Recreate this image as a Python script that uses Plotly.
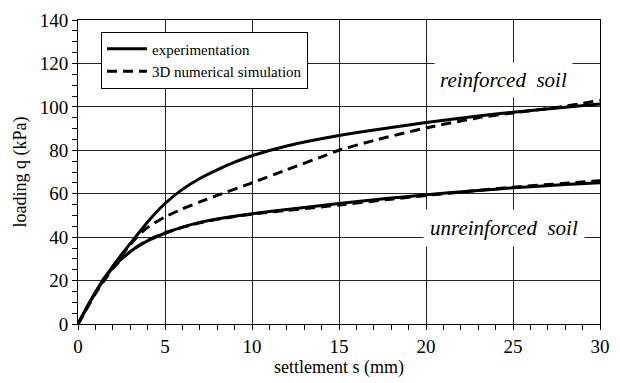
import plotly.graph_objects as go

# Load-settlement curves (settlement s in mm, loading q in kPa)
s_exp_r = [0, 0.5, 1, 1.5, 2, 2.5, 3, 3.5, 4, 5, 6, 7, 8, 9, 10, 12, 15, 18, 20, 23, 25, 28, 30]
q_exp_r = [0, 7.5, 14.5, 21, 26.5, 32, 37, 42, 47, 55.5, 62, 67, 71, 74.5, 77.5, 82, 86.8, 90.5, 92.8, 95.8, 97.5, 99.8, 101.3]

s_sim_r = [0, 0.5, 1, 1.5, 2, 2.5, 3, 3.5, 4, 5, 6, 7, 8, 10, 12, 14, 15, 17, 20, 23, 25, 28, 30]
q_sim_r = [0, 7.5, 14.5, 21, 26.5, 31.5, 36.5, 41, 44.5, 49.3, 53, 56.2, 59.2, 65, 71, 77, 80, 84.5, 90.3, 95, 97.2, 100.3, 103]

s_exp_u = [0, 0.5, 1, 1.5, 2, 2.5, 3, 3.5, 4, 5, 6, 7, 8, 10, 12, 15, 18, 20, 23, 25, 28, 30]
q_exp_u = [0, 7.5, 14.5, 20.5, 26, 30, 33.3, 36, 38.3, 41.8, 44.6, 46.8, 48.4, 50.8, 52.7, 55.5, 58, 59.5, 61.5, 62.7, 64.2, 65]

s_sim_u = [0, 0.5, 1, 1.5, 2, 2.5, 3, 3.5, 4, 5, 6, 7, 8, 10, 12, 15, 18, 20, 23, 25, 28, 30]
q_sim_u = [0, 7, 14, 20, 25.5, 29.8, 33.3, 36.2, 38.6, 42, 44.5, 46.6, 48.2, 50.6, 52.3, 54.8, 57.5, 59.2, 61.5, 63, 64.8, 66]

FONT = "Liberation Serif"
DASH = "10px,6px"

fig = go.Figure()
fig.add_trace(go.Scatter(x=s_exp_r, y=q_exp_r, mode="lines", name="experimentation",
                         line=dict(color="black", width=3, shape="spline", smoothing=0.5)))
fig.add_trace(go.Scatter(x=s_sim_r, y=q_sim_r, mode="lines", name="3D numerical simulation",
                         line=dict(color="black", width=3, dash=DASH, shape="spline", smoothing=0.5)))
fig.add_trace(go.Scatter(x=s_exp_u, y=q_exp_u, mode="lines", showlegend=False,
                         line=dict(color="black", width=3, shape="spline", smoothing=0.5)))
fig.add_trace(go.Scatter(x=s_sim_u, y=q_sim_u, mode="lines", showlegend=False,
                         line=dict(color="black", width=3, dash=DASH, shape="spline", smoothing=0.5)))

fig.add_annotation(x=24.45, y=112.3, xref="x", yref="y", text="reinforced\u00a0 soil",
                   showarrow=False, bgcolor="white", borderpad=5,
                   font=dict(family=FONT, size=21, color="black", style="italic"))
fig.add_annotation(x=24.5, y=44.2, xref="x", yref="y", text="unreinforced\u00a0 soil",
                   showarrow=False, bgcolor="white", borderpad=6,
                   font=dict(family=FONT, size=21, color="black", style="italic"))

axis_common = dict(
    showline=True, linecolor="black", linewidth=1, mirror=True,
    showgrid=True, gridcolor="#222", gridwidth=1,
    ticks="outside", ticklen=5, tickcolor="black", tickwidth=1,
    zeroline=False,
    tickfont=dict(family=FONT, size=19, color="black"),
)

fig.update_xaxes(range=[0, 30], dtick=5, tick0=0,
                 minor=dict(dtick=1, ticks="outside", ticklen=5, tickcolor="black", showgrid=False),
                 title=dict(text="settlement s (mm)", font=dict(family=FONT, size=18, color="black"), standoff=4),
                 **axis_common)
fig.update_yaxes(range=[0, 140], dtick=20, tick0=0,
                 minor=dict(dtick=5, ticks="outside", ticklen=5, tickcolor="black", showgrid=False),
                 title=dict(text="loading q (kPa)", font=dict(family=FONT, size=18, color="black"), standoff=8),
                 **axis_common)

fig.update_layout(
    width=620, height=383,
    margin=dict(l=78, r=10, t=13, b=59),
    plot_bgcolor="white", paper_bgcolor="white",
    font=dict(family=FONT, color="black"),
    legend=dict(x=0.044, y=0.962, xanchor="left", yanchor="top",
                bgcolor="white", bordercolor="black", borderwidth=1,
                font=dict(family=FONT, size=15, color="black"),
                tracegroupgap=0, itemwidth=40, entrywidth=229),
)

fig.write_html("out.html")
